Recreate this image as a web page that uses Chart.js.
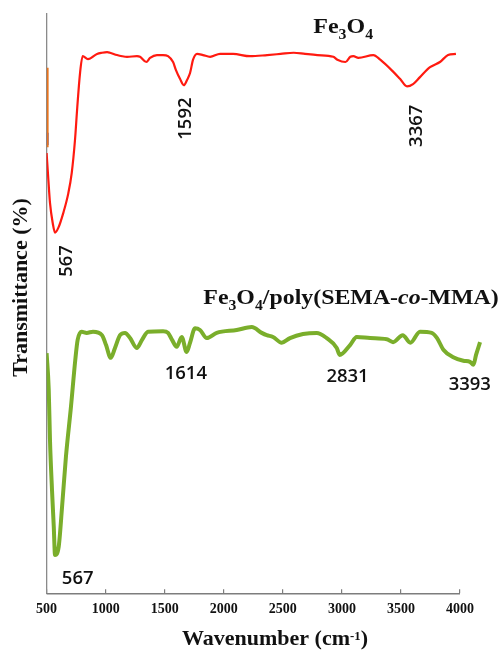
<!DOCTYPE html>
<html>
<head>
<meta charset="utf-8">
<script src="https://cdn.jsdelivr.net/npm/chart.js@4.4.1/dist/chart.umd.min.js"></script>
<style>
  html, body { margin: 0; padding: 0; background: #fff; }
  #wrap { width: 504px; height: 650px; position: relative; }
</style>
</head>
<body>
<div id="wrap"><canvas id="c" width="504" height="650"></canvas></div>
<script>
// FT-IR spectra of bare Fe3O4 and the Fe3O4/poly(SEMA-co-MMA) composite.
// Transmittance values are vertically offset so both traces share one plot.

const fe3o4Wavenumber = [500, 514, 527, 549, 567, 593, 633, 673, 700, 726, 744, 766, 787, 829, 901,
  941, 981, 1004, 1060, 1101, 1140, 1219, 1243, 1293, 1323, 1378, 1426, 1466, 1506, 1529,
  1561, 1592, 1617, 1641, 1665, 1697, 1744, 1800, 1880, 1983, 2118, 2254, 2361, 2465, 2556,
  2654, 2781, 2813, 2877, 2916, 2940, 2980, 3099, 3154, 3258, 3311, 3367, 3415, 3470, 3550,
  3629, 3693, 3756];
const fe3o4Transmittance = [75.9, 71.3, 67.3, 63.8, 62.2, 63.0, 65.6, 69.0, 72.5, 78.2, 83.8, 89.7, 92.6, 92.1, 93.0,
  93.2, 93.3, 93.2, 92.8, 92.6, 92.5, 92.6, 92.5, 91.6, 92.3, 92.8, 92.8, 92.6, 91.6, 90.2,
  88.7, 87.6, 88.5, 89.7, 92.0, 93.0, 92.8, 92.5, 93.0, 93.0, 92.6, 92.8, 93.0, 93.2, 93.0,
  92.8, 92.5, 92.0, 91.6, 92.5, 92.6, 92.3, 92.8, 92.0, 89.9, 88.7, 87.4, 87.8, 89.0, 90.7,
  91.6, 92.8, 93.0];

const compositeWavenumber = [500, 517, 527, 543, 557, 567, 596, 623, 654, 694, 728, 747, 779, 819, 869,
  941, 973, 1010, 1044, 1084, 1124, 1164, 1217, 1259, 1307, 1426, 1466, 1498, 1535, 1575,
  1614, 1641, 1681, 1720, 1774, 1853, 2012, 2132, 2211, 2251, 2301, 2370, 2436, 2540, 2649,
  2728, 2808, 2831, 2914, 2967, 3073, 3206, 3256, 3333, 3393, 3470, 3563, 3606, 3656, 3735,
  3815, 3868, 3895, 3916, 3948];
const compositeTransmittance = [41.4, 35.1, 26.4, 17.8, 11.5, 6.6, 8.0, 14.9, 23.6, 32.2, 40.2, 43.7, 45.1, 44.9, 45.1,
  44.5, 42.8, 40.6, 42.3, 44.5, 44.9, 44.0, 42.3, 43.7, 45.1, 45.2, 44.9, 43.7, 42.5, 44.2,
  41.6, 43.2, 45.7, 45.4, 44.0, 44.9, 45.4, 45.9, 44.9, 44.5, 44.2, 43.2, 44.0, 44.7, 44.9,
  44.0, 42.3, 41.1, 42.8, 44.2, 44.0, 43.8, 43.3, 44.5, 43.2, 45.1, 44.9, 44.0, 42.0, 40.7,
  40.1, 39.9, 39.4, 41.1, 43.3];

// short leftover traces sitting on the left edge of the plot
const edgeWavenumber = [508, 508];
const edgeOrange = [90.6, 76.9];
const edgeBlue = [79.4, 77.3];

const tickValues = [500, 1000, 1500, 2000, 2500, 3000, 3500, 4000];

const fe3o4Peaks = ['567', '1592', '3367'];
const compositePeaks = ['567', '1614', '2831', '3393'];

const fe3o4Name = [{ t: 'Fe' }, { t: '3', sub: true }, { t: 'O' }, { t: '4', sub: true }];
const compositeName = [{ t: 'Fe' }, { t: '3', sub: true }, { t: 'O' }, { t: '4', sub: true },
  { t: '/poly(SEMA-' }, { t: 'co', it: true }, { t: '-MMA)' }];
const xTitle = [{ t: 'Wavenumber (cm' }, { t: '-1', sup: true }, { t: ')' }];
const yTitle = 'Transmittance (%)';

const SERIF = '"Liberation Serif", "Times New Roman", serif';
const SANS = '"Open Sans", "Liberation Sans", sans-serif';

const toXY = (xs, ys) => xs.map((x, i) => ({ x, y: ys[i] }));

// where each peak label sits relative to its dip (pixels)
const peakPlacement = {
  fe: {
    '567': { dx: 16.5, dy: 44.3, rotate: true },
    '1592': { dx: 7.6, dy: 54.5, rotate: true },
    '3367': { dx: 14.5, dy: 60.5, rotate: true }
  },
  comp: {
    '567': { dx: 22.7, dy: 28.5 },
    '1614': { dx: -0.8, dy: 26.5 },
    '2831': { dx: 7.9, dy: 27.5 },
    '3393': { dx: 59.5, dy: 47.5 }
  }
};

function runFont(r, size) {
  const sz = r.sub ? size * 0.66 : r.sup ? size * 0.58 : size;
  return (r.it ? 'italic ' : '') + 'bold ' + sz + 'px ' + SERIF;
}
function richWidth(ctx, runs, size) {
  let w = 0;
  for (const r of runs) { ctx.font = runFont(r, size); w += ctx.measureText(r.t).width; }
  return w;
}
function drawRich(ctx, runs, x, y, size, sx) {
  ctx.save();
  ctx.translate(x, y);
  ctx.scale(sx, 1);
  ctx.textAlign = 'left';
  ctx.textBaseline = 'alphabetic';
  let cx = 0;
  for (const r of runs) {
    ctx.font = runFont(r, size);
    const dy = r.sub ? size * 0.28 : r.sup ? -size * 0.24 : 0;
    ctx.fillText(r.t, cx, dy);
    cx += ctx.measureText(r.t).width;
  }
  ctx.restore();
}

const decorations = {
  id: 'decorations',
  afterDraw(chart) {
    const ctx = chart.ctx;
    const xt = chart.scales.xt;

    // bottom axis line, from the first to the last labelled tick
    ctx.save();
    ctx.strokeStyle = '#7d7d7d';
    ctx.lineWidth = 1.5;
    ctx.beginPath();
    ctx.moveTo(xt.getPixelForValue(tickValues[0]), xt.top + 0.5);
    ctx.lineTo(xt.getPixelForValue(tickValues[tickValues.length - 1]), xt.top + 0.5);
    ctx.stroke();
    ctx.restore();

    ctx.save();
    ctx.fillStyle = '#111';

    // trace names
    drawRich(ctx, fe3o4Name, 313.3, 33.3, 22, 1.09);
    drawRich(ctx, compositeName, 203.3, 303.5, 22, 1.085);

    // axis titles
    const w = richWidth(ctx, xTitle, 22);
    drawRich(ctx, xTitle, 275 - w / 2, 645, 22, 1);
    ctx.save();
    ctx.translate(27, 287.5);
    ctx.rotate(-Math.PI / 2);
    ctx.font = 'bold 22px ' + SERIF;
    ctx.textAlign = 'center';
    ctx.textBaseline = 'alphabetic';
    ctx.fillText(yTitle, 0, 0);
    ctx.restore();

    // peak labels, anchored on the dip they name
    const groups = [
      { key: 'fe', meta: chart.getDatasetMeta(0), xs: fe3o4Wavenumber, peaks: fe3o4Peaks },
      { key: 'comp', meta: chart.getDatasetMeta(1), xs: compositeWavenumber, peaks: compositePeaks }
    ];
    ctx.font = '600 18.5px ' + SANS;
    ctx.fillStyle = '#111';
    for (const g of groups) {
      for (const label of g.peaks) {
        const idx = g.xs.indexOf(Number(label));
        const pt = g.meta.data[idx];
        const p = peakPlacement[g.key][label];
        if (p.rotate) {
          ctx.save();
          ctx.translate(pt.x + p.dx, pt.y + p.dy);
          ctx.rotate(-Math.PI / 2);
          ctx.textAlign = 'left';
          ctx.textBaseline = 'alphabetic';
          ctx.fillText(label, 0, 0);
          ctx.restore();
        } else {
          ctx.textAlign = 'center';
          ctx.textBaseline = 'alphabetic';
          ctx.fillText(label, pt.x + p.dx, pt.y + p.dy);
        }
      }
    }
    ctx.restore();
  }
};

new Chart(document.getElementById('c'), {
  type: 'line',
  data: {
    datasets: [
      {
        label: 'Fe3O4',
        data: toXY(fe3o4Wavenumber, fe3o4Transmittance),
        borderColor: '#ff1a10',
        borderWidth: 2.2,
        pointRadius: 0,
        cubicInterpolationMode: 'monotone',
        fill: false,
        xAxisID: 'x', yAxisID: 'y'
      },
      {
        label: 'Fe3O4/poly(SEMA-co-MMA)',
        data: toXY(compositeWavenumber, compositeTransmittance),
        borderColor: '#7aae2b',
        borderWidth: 4,
        pointRadius: 0,
        cubicInterpolationMode: 'monotone',
        fill: false,
        xAxisID: 'x', yAxisID: 'y'
      },
      {
        label: 'edge-orange',
        data: toXY(edgeWavenumber, edgeOrange),
        borderColor: '#e8741e',
        borderWidth: 2,
        pointRadius: 0,
        tension: 0,
        xAxisID: 'x', yAxisID: 'y'
      },
      {
        label: 'edge-blue',
        data: toXY(edgeWavenumber, edgeBlue),
        borderColor: '#3a4fd0',
        borderWidth: 2,
        pointRadius: 0,
        tension: 0,
        xAxisID: 'x', yAxisID: 'y'
      }
    ]
  },
  options: {
    responsive: false,
    animation: false,
    devicePixelRatio: 1,
    layout: { padding: { top: 13.3, right: 17.4, left: 0, bottom: 0 } },
    plugins: { legend: { display: false }, tooltip: { enabled: false } },
    scales: {
      x: { type: 'linear', min: 500, max: 4000, display: false },
      xt: {
        type: 'linear',
        axis: 'x',
        position: 'bottom',
        min: 500,
        max: 4225,
        afterBuildTicks: (s) => { s.ticks = tickValues.map(v => ({ value: v })); },
        afterFit: (s) => { s.height = 56.7; },
        border: { display: false },
        grid: { drawOnChartArea: false, drawTicks: true, tickLength: -4, color: '#7d7d7d', lineWidth: 1.2 },
        ticks: {
          autoSkip: false, maxRotation: 0, padding: 12, color: '#111',
          font: { family: SERIF, size: 14, weight: 'bold' },
          callback: (v) => String(v)
        }
      },
      y: {
        min: 0, max: 100, position: 'left',
        afterFit: (s) => { s.width = 46.6; },
        ticks: { display: false },
        grid: { display: false },
        border: { display: true, color: '#8a8a8a', width: 1.3 }
      }
    }
  },
  plugins: [decorations]
});
</script>
</body>
</html>
